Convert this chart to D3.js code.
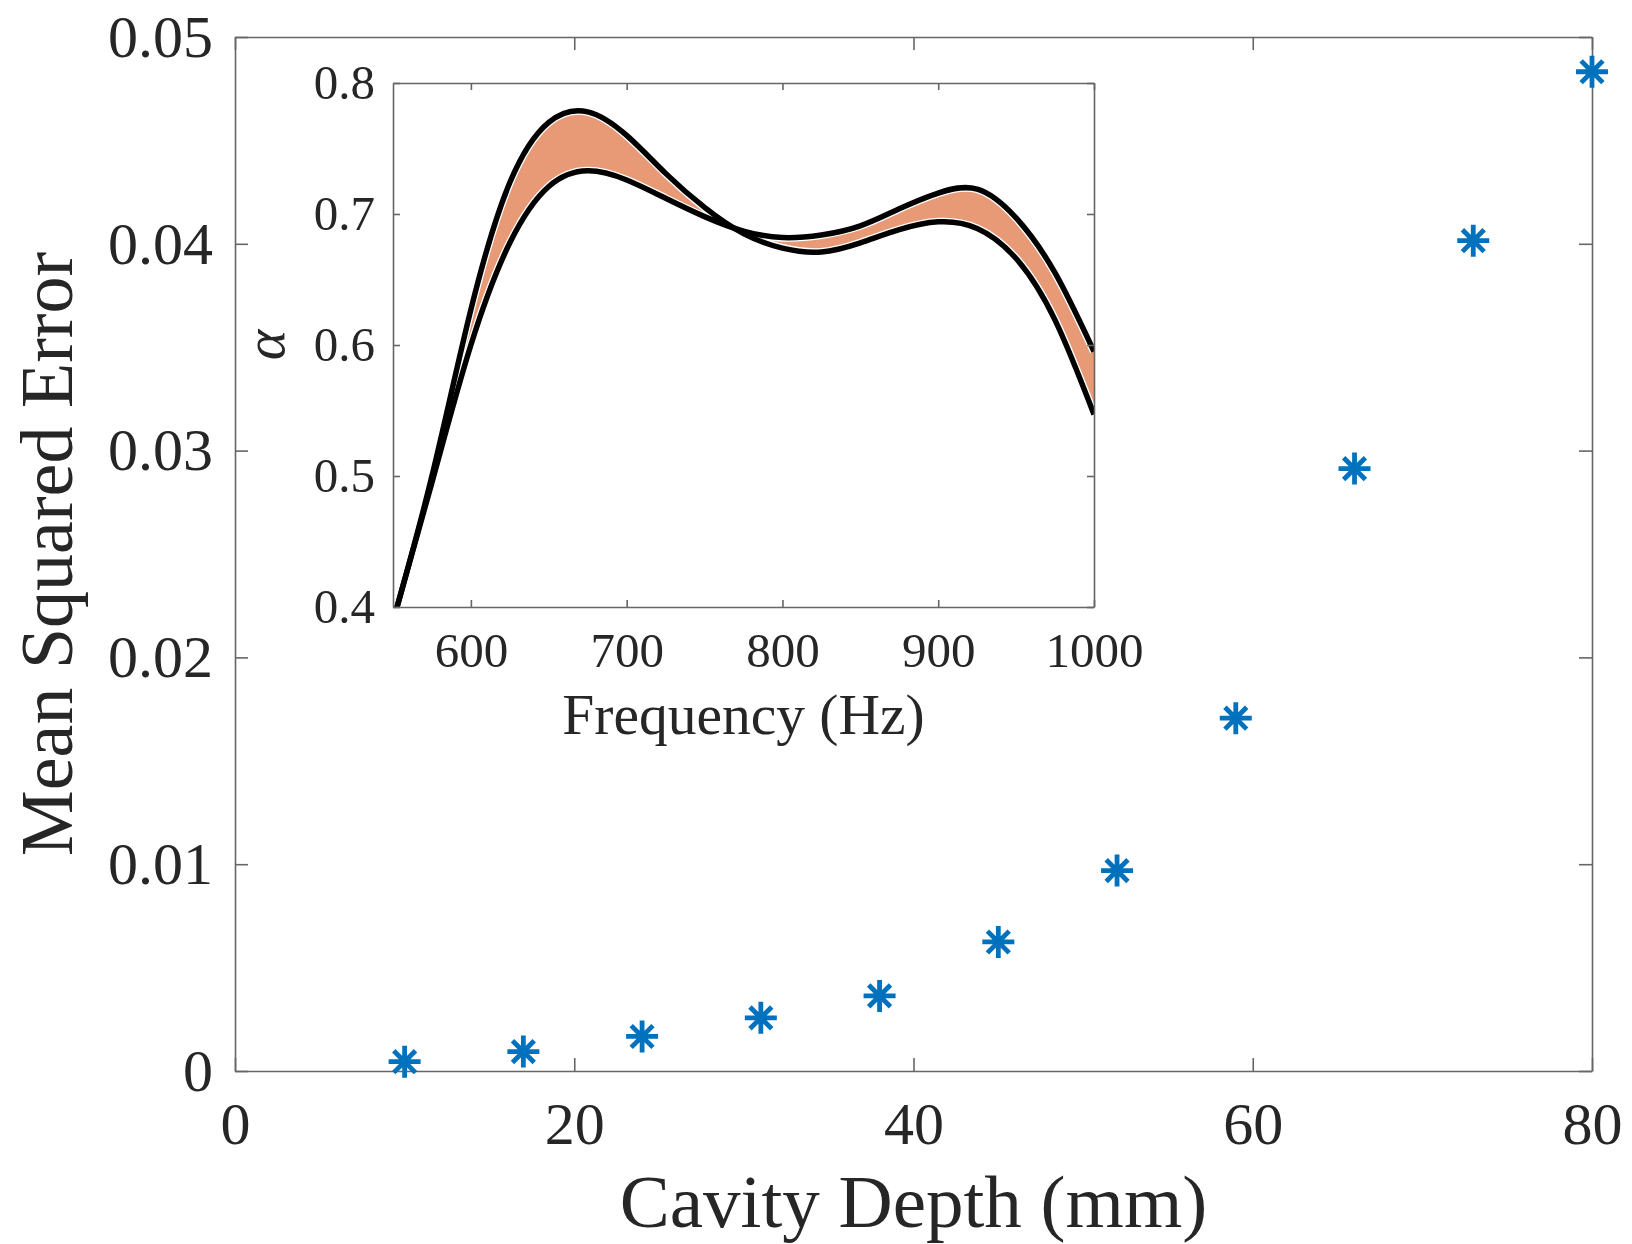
<!DOCTYPE html>
<html>
<head>
<meta charset="utf-8">
<script src="https://cdn.jsdelivr.net/npm/d3@7"></script>
<style>
  body { margin: 0; background: #fff; }
  text { font-family: "Liberation Serif", "Times New Roman", serif; fill: #262626; }
</style>
</head>
<body>
<div id="chart"></div>
<script>
// main plot data: MSE against cavity depth
var depths = [10, 17, 24, 31, 38, 45, 52, 59, 66, 73, 80];
var mse = [0.00045, 0.00094, 0.00167, 0.00257, 0.00363, 0.00624, 0.00969, 0.01706, 0.02913, 0.04015, 0.04832];
var xTicks = [0, 20, 40, 60, 80];
var yTicks = [0, 0.01, 0.02, 0.03, 0.04, 0.05];
var yTickLabels = ["0", "0.01", "0.02", "0.03", "0.04", "0.05"];

// inset data: absorption coefficient bounds, read every 25 Hz
var freq   = [550, 575, 600, 625, 650, 675, 700, 725, 750, 775, 800, 825, 850, 875, 900, 925, 950, 975, 1000];
var alphaA = [0.389, 0.500, 0.627, 0.724, 0.770, 0.778, 0.760, 0.731, 0.705, 0.685, 0.674, 0.671, 0.678, 0.688, 0.694, 0.689, 0.666, 0.619, 0.547];
var alphaB = [0.389, 0.495, 0.600, 0.678, 0.721, 0.733, 0.726, 0.712, 0.698, 0.687, 0.682, 0.684, 0.691, 0.704, 0.716, 0.719, 0.697, 0.655, 0.595];
var fTicks = [600, 700, 800, 900, 1000];
var aTicks = [0.4, 0.5, 0.6, 0.7, 0.8];
var aTickLabels = ["0.4", "0.5", "0.6", "0.7", "0.8"];

var W = 1632, H = 1244;
var axisColor = "#666";

var svg = d3.select("#chart").append("svg")
    .attr("width", W).attr("height", H);
svg.append("rect").attr("width", W).attr("height", H).attr("fill", "#fff");

// ---------- main axes ----------
var m = {left: 235, right: 1592, top: 37, bottom: 1071};
var x = d3.scaleLinear().domain([0, 80]).range([m.left, m.right]);
var y = d3.scaleLinear().domain([0, 0.05]).range([m.bottom, m.top]);

function styleAxis(g) {
    g.select(".domain").attr("stroke", axisColor).attr("stroke-width", 1.6);
    g.selectAll(".tick line").attr("stroke", axisColor).attr("stroke-width", 1.6);
    g.selectAll("text").attr("fill", "#262626").style("font-family", "Liberation Serif, serif");
}

var gx = svg.append("g").attr("transform", "translate(0," + m.bottom + ")")
    .call(d3.axisBottom(x).tickValues(xTicks).tickSize(-13).tickSizeOuter(0).tickFormat(d3.format("d")));
styleAxis(gx);
gx.selectAll("text").attr("y", 73).attr("dy", 0).style("font-size", "60px");

var gxTop = svg.append("g").attr("transform", "translate(0," + m.top + ")")
    .call(d3.axisTop(x).tickValues(xTicks).tickSize(-13).tickSizeOuter(0).tickFormat(""));
styleAxis(gxTop);

var gy = svg.append("g").attr("transform", "translate(" + m.left + ",0)")
    .call(d3.axisLeft(y).tickValues(yTicks).tickSize(-13).tickSizeOuter(0)
        .tickFormat(function(d, i) { return yTickLabels[i]; }));
styleAxis(gy);
gy.selectAll("text").attr("x", -22).style("font-size", "60px");

var gyRight = svg.append("g").attr("transform", "translate(" + m.right + ",0)")
    .call(d3.axisRight(y).tickValues(yTicks).tickSize(-13).tickSizeOuter(0).tickFormat(""));
styleAxis(gyRight);

// axis labels
svg.append("text")
    .attr("x", (m.left + m.right) / 2).attr("y", 1227)
    .attr("text-anchor", "middle")
    .style("font-size", "75px")
    .text("Cavity Depth (mm)");

svg.append("text")
    .attr("transform", "translate(72," + (m.top + m.bottom) / 2 + ") rotate(-90)")
    .attr("text-anchor", "middle")
    .style("font-size", "74px")
    .text("Mean Squared Error");

// asterisk markers
var r = 16, dd = r * 0.68;
var star = "M0," + (-r) + "V" + r + "M" + (-r) + ",0H" + r +
    "M" + (-dd) + "," + (-dd) + "L" + dd + "," + dd +
    "M" + (-dd) + "," + dd + "L" + dd + "," + (-dd);
svg.append("g").selectAll("path")
    .data(depths)
    .enter()
    .append("path")
    .attr("transform", function(d, i) { return "translate(" + x(d) + "," + y(mse[i]) + ")"; })
    .attr("d", star)
    .attr("fill", "none")
    .attr("stroke", "#0072BD")
    .attr("stroke-width", 4.8);

// ---------- inset ----------
var im = {left: 393, right: 1094, top: 83, bottom: 607};
var fx = d3.scaleLinear().domain([550, 1000]).range([im.left, im.right]);
var ay = d3.scaleLinear().domain([0.4, 0.8]).range([im.bottom, im.top]);

var inset = svg.append("g");
inset.append("rect")
    .attr("x", im.left).attr("y", im.top)
    .attr("width", im.right - im.left).attr("height", im.bottom - im.top)
    .attr("fill", "#fff");

var defs = svg.append("defs");
defs.append("clipPath").attr("id", "insetClip")
    .append("rect")
    .attr("x", im.left).attr("y", im.top)
    .attr("width", im.right - im.left).attr("height", im.bottom - im.top);

var curve = d3.curveNatural;
var lineA = d3.line().x(function(d) { return fx(d); }).y(function(d, i) { return ay(alphaA[i]); }).curve(curve);
var lineB = d3.line().x(function(d) { return fx(d); }).y(function(d, i) { return ay(alphaB[i]); }).curve(curve);
var band = d3.area()
    .x(function(d) { return fx(d); })
    .y0(function(d, i) { return ay(alphaA[i]); })
    .y1(function(d, i) { return ay(alphaB[i]); })
    .curve(curve);

defs.append("clipPath").attr("id", "bandClip")
    .append("path").attr("d", band(freq));

var plot = inset.append("g").attr("clip-path", "url(#insetClip)");

var blackW = 5.5, whiteEdge = 1.3;
// orange band, white rim just inside each bound, black bounds on top
plot.append("path").attr("d", band(freq)).attr("fill", "#e89a76");
var rim = plot.append("g").attr("clip-path", "url(#bandClip)");
[lineA, lineB].forEach(function(l) {
    rim.append("path").attr("d", l(freq))
        .attr("fill", "none").attr("stroke", "#fff").attr("stroke-width", blackW + 2 * whiteEdge);
});
[lineA, lineB].forEach(function(l) {
    plot.append("path").attr("d", l(freq))
        .attr("fill", "none").attr("stroke", "#000").attr("stroke-width", blackW);
});

var ix = inset.append("g").attr("transform", "translate(0," + im.bottom + ")")
    .call(d3.axisBottom(fx).tickValues(fTicks).tickSize(-7).tickSizeOuter(0).tickFormat(d3.format("d")));
styleAxis(ix);
ix.selectAll("text").attr("y", 60).attr("dy", 0).style("font-size", "49px");

var ixTop = inset.append("g").attr("transform", "translate(0," + im.top + ")")
    .call(d3.axisTop(fx).tickValues(fTicks).tickSize(-7).tickSizeOuter(0).tickFormat(""));
styleAxis(ixTop);

var iy = inset.append("g").attr("transform", "translate(" + im.left + ",0)")
    .call(d3.axisLeft(ay).tickValues(aTicks).tickSize(-7).tickSizeOuter(0)
        .tickFormat(function(d, i) { return aTickLabels[i]; }));
styleAxis(iy);
iy.selectAll("text").attr("x", -18).style("font-size", "49px");

var iyRight = inset.append("g").attr("transform", "translate(" + im.right + ",0)")
    .call(d3.axisRight(ay).tickValues(aTicks).tickSize(-7).tickSizeOuter(0).tickFormat(""));
styleAxis(iyRight);

inset.append("text")
    .attr("x", (im.left + im.right) / 2).attr("y", 734)
    .attr("text-anchor", "middle")
    .style("font-size", "57.5px")
    .text("Frequency (Hz)");

inset.append("text")
    .attr("transform", "translate(284," + (im.top + im.bottom) / 2 + ") rotate(-90)")
    .attr("text-anchor", "middle")
    .style("font-size", "58px")
    .style("font-style", "italic")
    .text("α");
</script>
</body>
</html>
